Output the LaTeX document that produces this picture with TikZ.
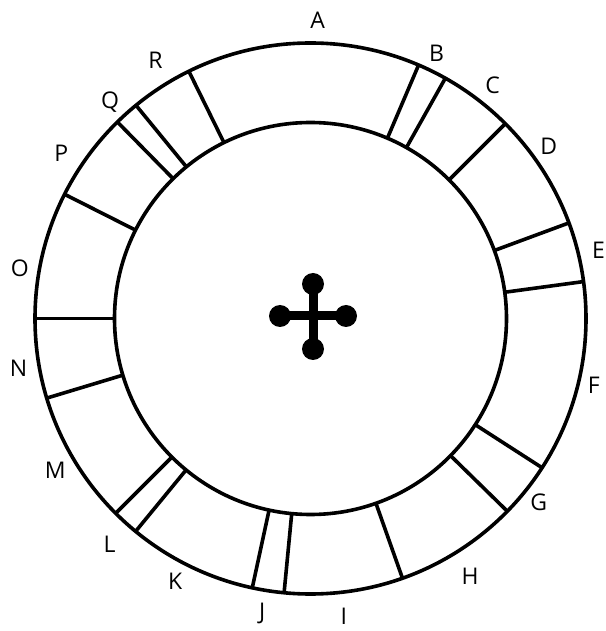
\documentclass[tikz,border=0pt]{standalone}
\usepackage{fontspec}
\setmainfont{Open Sans}

\begin{document}
\begin{tikzpicture}[line width=3.6pt,
  lbl/.style={font=\fontsize{23}{26}\selectfont, inner sep=0pt}]
  \useasboundingbox (-310.5pt,-312.5pt) rectangle (294.5pt,318.5pt);

  % 外圆与内圆
  \draw (0,0) circle (275.5pt);
  \draw (0,0) circle (196pt);

  % 分隔线
  \foreach \a in {7.7, 20.3, 45, 60.7, 66.9, 116.2, 129.3, 134.5, 153.2,
                  180, 196.8, 225, 230.6, 257.8, 264.5, 289.5, 315.6, 327.2} {
    \draw (\a:196pt) -- (\a:275.5pt);
  }

  % 字母标注
  \foreach \t/\a/\r in {A/88.6/298, B/64.6/294, C/52/296, D/35.9/294,
                        E/13.4/296, F/-13.2/291, G/-38.8/293, H/-58.2/303,
                        I/-83.6/300, J/260.7/299, K/242.8/296, L/228.3/302,
                        M/210.7/297, N/189.6/296, O/170.2/295, P/146.5/299,
                        Q/132.8/295, R/121/301} {
    \node[lbl] (lab\t) at (\a:\r pt) {\t};
  }

  % 中心十字
  \coordinate (ctr) at (2.5pt,2.5pt);
  \draw[line width=9pt] ([xshift=-33pt]ctr) -- ([xshift=33pt]ctr);
  \draw[line width=9pt] ([yshift=-33pt]ctr) -- ([yshift=32pt]ctr);
  \foreach \dx/\dy in {-33/0, 33/0, 0/-33, 0/32} {
    \fill ([xshift=\dx pt, yshift=\dy pt]ctr) circle (11pt);
  }
\end{tikzpicture}
\end{document}
